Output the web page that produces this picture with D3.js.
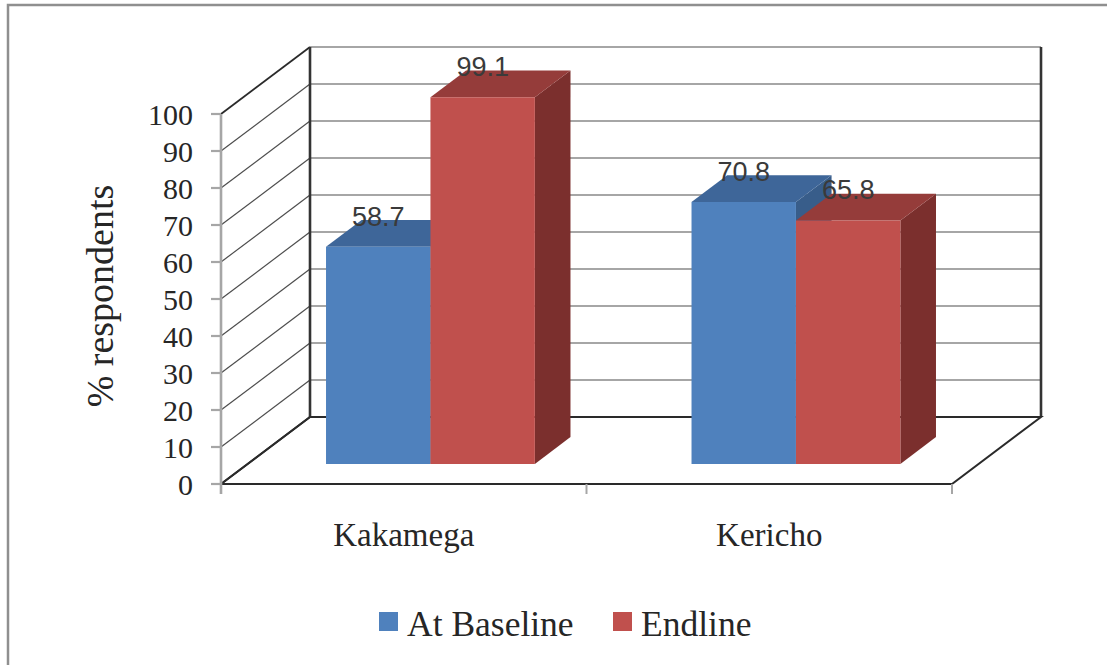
<!DOCTYPE html>
<html>
<head>
<meta charset="utf-8">
<script src="https://cdn.jsdelivr.net/npm/d3@7"></script>
<style>
  html, body { margin: 0; padding: 0; background: #ffffff; }
  svg { display: block; }
</style>
</head>
<body>
<svg id="chart" width="1107" height="665"></svg>
<script>
// Data
const categories = ["Kakamega", "Kericho"];
const seriesNames = ["At Baseline", "Endline"];
const baselineValues = [58.7, 70.8];
const endlineValues = [99.1, 65.8];
const yTicks = [0, 10, 20, 30, 40, 50, 60, 70, 80, 90, 100];

const seriesColors = {
  "At Baseline": { front: "#4f81bd", top: "#3e6699", side: "#385d8a" },
  "Endline":     { front: "#c0504d", top: "#953c3a", side: "#7b2f2d" }
};

const svg = d3.select("#chart");

// Front plane of the 3D box and the oblique depth offset
const left = 221, right = 952, baseY = 484, topY = 114;
const depthX = 89, depthY = 67;
const frontDepth = 0.3, backDepth = 0.7;   // bars sit in the middle of the depth

const y = d3.scaleLinear().domain([0, 100]).range([baseY, topY]);
const x0 = d3.scaleBand().domain(categories).range([left, right]).paddingInner(0).paddingOuter(0);
const x1 = d3.scaleBand().domain(seriesNames).range([0, x0.bandwidth()]).paddingInner(0).paddingOuter(0.75);

// project a (x, y) point on the front plane back by depth fraction d
const P = (px, py, d) => [px + depthX * d, py - depthY * d];
const pts = arr => arr.map(p => p.join(",")).join(" ");

// Outer chart frame
svg.append("rect")
  .attr("x", 8).attr("y", 5).attr("width", 1130).attr("height", 700)
  .attr("fill", "none").attr("stroke", "#8f8f8f").attr("stroke-width", 2.5);

const dark = "#2a2a2a";
const gridGray = "#a6a6a6";

// Back wall gridlines
const back = svg.append("g");
yTicks.forEach(t => {
  const a = P(left, y(t), 1), b = P(right, y(t), 1);
  back.append("line")
    .attr("x1", a[0]).attr("y1", a[1]).attr("x2", b[0]).attr("y2", b[1])
    .attr("stroke", t === 0 ? dark : gridGray)
    .attr("stroke-width", t === 0 ? 2 : 2.2);
});
// Side wall diagonals
yTicks.forEach(t => {
  const a = P(left, y(t), 0), b = P(left, y(t), 1);
  back.append("line")
    .attr("x1", a[0]).attr("y1", a[1]).attr("x2", b[0]).attr("y2", b[1])
    .attr("stroke", (t === 0 || t === 100) ? dark : "#4d4d4d")
    .attr("stroke-width", (t === 0 || t === 100) ? 1.8 : 1.2);
});
// Back wall vertical edges
[left, right].forEach(px => {
  const a = P(px, y(0), 1), b = P(px, y(100), 1);
  back.append("line")
    .attr("x1", a[0]).attr("y1", a[1]).attr("x2", b[0]).attr("y2", b[1])
    .attr("stroke", "#333333").attr("stroke-width", 2.6);
});
// Floor outline
const f0 = P(left, y(0), 0), f1 = P(right, y(0), 0), f2 = P(right, y(0), 1), f3 = P(left, y(0), 1);
back.append("polygon")
  .attr("points", pts([f0, f1, f2, f3]))
  .attr("fill", "none").attr("stroke", dark).attr("stroke-width", 2);
// Category tick marks on the floor edge
[left, x0("Kericho"), right].forEach(px => {
  back.append("line")
    .attr("x1", px).attr("y1", y(0)).attr("x2", px).attr("y2", y(0) + 10)
    .attr("stroke", gridGray).attr("stroke-width", 2);
});

// Bars (painted left to right so nearer faces overlap correctly)
const bars = svg.append("g");
const series = [
  { name: "At Baseline", values: baselineValues },
  { name: "Endline", values: endlineValues }
];
const barData = [];
categories.forEach((c, i) => {
  series.forEach(s => barData.push({ cat: c, name: s.name, value: s.values[i] }));
});

barData.forEach(d => {
  const xl = x0(d.cat) + x1(d.name), xr = xl + x1.bandwidth();
  const yb = y(0), yt = y(d.value);
  const col = seriesColors[d.name];
  const fBL = P(xl, yb, frontDepth), fBR = P(xr, yb, frontDepth);
  const fTL = P(xl, yt, frontDepth), fTR = P(xr, yt, frontDepth);
  const bBR = P(xr, yb, backDepth), bTL = P(xl, yt, backDepth), bTR = P(xr, yt, backDepth);
  bars.append("polygon").attr("points", pts([fBR, bBR, bTR, fTR])).attr("fill", col.side);
  bars.append("polygon").attr("points", pts([fTL, fTR, bTR, bTL])).attr("fill", col.top);
  bars.append("polygon").attr("points", pts([fBL, fBR, fTR, fTL])).attr("fill", col.front);
});

// Value labels
svg.append("g").selectAll("text").data(barData).join("text")
  .attr("x", d => P(x0(d.cat) + x1(d.name) + x1.bandwidth() / 2, 0, frontDepth)[0])
  .attr("y", d => P(0, y(d.value), frontDepth)[1] - 21)
  .attr("text-anchor", "middle")
  .attr("font-family", "Liberation Sans, Arial, sans-serif")
  .attr("font-size", 27)
  .attr("fill", "#3a3a3a")
  .text(d => d.value.toFixed(1));

// Vertical axis on the front left edge
const axis = svg.append("g");
axis.append("line")
  .attr("x1", left).attr("y1", y(100)).attr("x2", left).attr("y2", y(0) + 10)
  .attr("stroke", gridGray).attr("stroke-width", 2.6);
axis.selectAll(".tick").data(yTicks).join("line")
  .attr("x1", left - 10).attr("x2", left)
  .attr("y1", d => y(d)).attr("y2", d => y(d))
  .attr("stroke", gridGray).attr("stroke-width", 2.2);
axis.selectAll(".lbl").data(yTicks).join("text")
  .attr("x", 193).attr("y", d => y(d))
  .attr("dy", "0.35em")
  .attr("text-anchor", "end")
  .attr("font-family", "Liberation Serif, Times New Roman, serif")
  .attr("font-size", 30)
  .attr("fill", "#262626")
  .text(d => d);

// Axis title
svg.append("text")
  .attr("transform", "translate(100,296) rotate(-90)")
  .attr("text-anchor", "middle")
  .attr("dy", "0.35em")
  .attr("font-family", "Liberation Serif, Times New Roman, serif")
  .attr("font-size", 38)
  .attr("fill", "#262626")
  .text("% respondents");

// Category labels
svg.append("g").selectAll("text").data(categories).join("text")
  .attr("x", d => x0(d) + x0.bandwidth() / 2)
  .attr("y", 546)
  .attr("text-anchor", "middle")
  .attr("font-family", "Liberation Serif, Times New Roman, serif")
  .attr("font-size", 33)
  .attr("fill", "#262626")
  .text(d => d);

// Legend
const legend = svg.append("g");
const legendX = [379, 613];
seriesNames.forEach((n, i) => {
  legend.append("rect")
    .attr("x", legendX[i]).attr("y", 612).attr("width", 19).attr("height", 19)
    .attr("fill", seriesColors[n].front);
  legend.append("text")
    .attr("x", legendX[i] + 28).attr("y", 636)
    .attr("font-family", "Liberation Serif, Times New Roman, serif")
    .attr("font-size", 35.5)
    .attr("fill", "#262626")
    .text(n);
});
</script>
</body>
</html>
